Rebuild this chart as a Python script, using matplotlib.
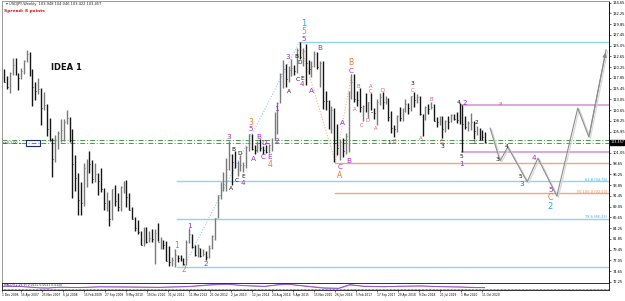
import numpy as np
import pandas as pd
import matplotlib
matplotlib.use('Agg')
import matplotlib.pyplot as plt
import matplotlib.dates as mdates
from matplotlib.transforms import blended_transform_factory
from matplotlib.patches import Rectangle

# USDJPY monthly bars, Sep 2006 .. Nov 2020 (approx.)
first_month = "2006-09-01"
highs = [118.3, 119.9, 118.2, 119.1,
         122.2, 122.2, 119.0, 120.0, 121.9, 124.1, 123.6, 119.8, 117.0, 117.9, 115.5, 114.7,
         112.0, 108.8, 104.4, 105.0, 106.0, 108.6, 108.6, 110.7, 109.2, 106.5, 100.5, 96.5,
         94.6, 98.8, 99.7, 101.4, 99.5, 98.9, 96.5, 97.8, 93.3, 92.3, 90.5, 93.1,
         93.8, 92.1, 93.6, 94.8, 94.9, 92.2, 88.9, 86.8, 86.0, 83.6, 84.4, 84.5,
         83.6, 84.0, 84.0, 85.5, 82.2, 81.7, 81.4, 80.2, 77.9, 79.5, 78.3, 78.3,
         77.6, 81.7, 84.2, 83.0, 80.4, 80.6, 79.9, 79.6, 79.2, 80.4, 82.8, 86.6,
         91.7, 94.5, 96.7, 99.9, 103.7, 100.9, 101.5, 99.2, 100.6, 99.0, 102.6, 105.4,
         105.4, 102.8, 103.8, 104.1, 102.7, 102.8, 103.1, 104.5, 110.1, 112.5, 118.9, 121.9,
         121.0, 120.5, 122.0, 120.8, 124.5, 125.9, 124.6, 125.3, 121.8, 121.5, 123.8, 123.7,
         121.7, 121.7, 114.9, 112.9, 111.5, 111.0, 107.5, 104.2, 104.3, 105.5, 114.8, 118.7,
         118.6, 114.9, 115.5, 111.8, 114.4, 112.5, 114.5, 111.0, 113.2, 114.5, 114.7, 113.7,
         113.4, 110.5, 107.3, 109.6, 111.4, 111.0, 113.2, 112.2, 113.7, 114.6, 114.2, 113.8,
         109.7, 111.5, 112.1, 112.4, 112.0, 109.0, 109.3, 109.3, 108.5, 109.3, 109.7, 109.7,
         110.3, 112.2, 111.7, 109.4, 108.1, 109.9, 108.2, 107.0, 106.6, 106.1, 105.7]
lows = [115.4, 116.9, 115.4, 114.4,
        118.5, 118.4, 115.2, 117.5, 118.8, 121.4, 118.3, 111.6, 113.0, 114.2, 107.2, 110.6,
        104.9, 103.7, 95.7, 99.0, 101.9, 103.5, 103.8, 107.5, 103.5, 90.9, 92.6, 87.1,
        87.1, 89.1, 93.5, 96.6, 94.4, 94.5, 91.7, 92.3, 88.2, 88.0, 84.8, 86.0,
        89.2, 88.1, 88.1, 92.0, 88.9, 88.4, 86.2, 83.6, 82.9, 80.4, 80.2, 80.9,
        81.1, 81.1, 76.3, 81.3, 79.6, 79.7, 76.8, 75.9, 75.9, 75.6, 76.6, 76.9,
        76.0, 76.1, 80.9, 79.8, 78.0, 77.7, 77.9, 78.0, 77.1, 77.5, 79.5, 81.7,
        86.5, 90.8, 92.5, 92.6, 97.2, 93.8, 97.6, 95.8, 97.0, 96.9, 97.6, 101.6,
        101.8, 100.8, 101.2, 101.4, 100.8, 101.1, 101.1, 101.5, 104.0, 105.2, 112.3, 115.6,
        115.9, 116.9, 118.3, 118.5, 118.9, 122.0, 120.4, 116.2, 118.6, 118.1, 120.2, 119.9,
        115.9, 110.9, 110.7, 106.3, 105.5, 99.0, 100.7, 99.5, 100.1, 100.9, 101.2, 113.1,
        112.5, 111.6, 110.1, 108.1, 110.2, 108.8, 110.6, 108.6, 107.3, 111.7, 110.8, 111.9,
        108.3, 105.6, 104.6, 105.7, 108.1, 108.1, 110.3, 109.8, 110.4, 111.4, 112.3, 109.6,
        104.9, 108.5, 109.7, 110.8, 108.3, 106.8, 107.2, 104.5, 105.7, 106.5, 107.9, 108.4,
        107.7, 107.5, 101.2, 106.4, 105.9, 106.1, 104.2, 105.1, 104.0, 104.0, 103.2]
closes = [118.1, 117.0, 115.8, 119.0,
          120.7, 118.6, 117.8, 119.4, 121.7, 123.2, 118.6, 115.8, 114.8, 115.3, 111.2, 111.7,
          106.4, 104.0, 99.7, 104.0, 105.5, 106.2, 108.0, 108.8, 106.0, 98.5, 95.5, 90.6,
          89.9, 97.6, 98.9, 98.6, 95.3, 96.4, 94.7, 93.0, 89.8, 89.9, 86.4, 93.0,
          90.3, 89.0, 93.5, 94.0, 91.2, 88.4, 86.4, 84.2, 83.5, 80.4, 83.7, 81.1,
          82.0, 81.8, 83.1, 81.2, 81.5, 80.5, 76.8, 76.6, 77.1, 78.2, 77.6, 76.9,
          76.2, 81.2, 82.9, 80.0, 78.3, 79.8, 78.1, 78.4, 77.9, 79.8, 82.5, 86.5,
          91.7, 92.6, 94.2, 97.4, 100.5, 99.1, 97.9, 98.2, 98.3, 98.4, 102.4, 105.3,
          102.0, 101.8, 103.2, 102.2, 101.8, 101.3, 102.8, 104.1, 109.7, 112.3, 118.6, 119.8,
          117.5, 119.6, 120.1, 119.4, 124.1, 122.5, 123.9, 121.2, 119.9, 120.6, 123.1, 120.2,
          121.1, 112.7, 112.6, 106.5, 110.7, 103.2, 102.1, 103.4, 101.4, 104.8, 114.4, 117.0,
          113.1, 112.8, 111.4, 111.5, 110.8, 112.4, 110.3, 110.0, 112.5, 113.6, 112.5, 112.7,
          109.2, 106.7, 106.3, 109.3, 108.8, 110.7, 111.9, 111.0, 113.7, 112.9, 113.5, 109.7,
          108.9, 111.4, 110.9, 111.4, 108.3, 107.9, 108.8, 106.3, 108.1, 108.0, 109.5, 108.6,
          108.4, 107.9, 107.5, 106.9, 107.8, 107.9, 105.9, 105.9, 105.5, 104.7, 103.5]

# wave labels, grouped by colour
purple_dates = ["2012-03-15", "2012-09-10", "2013-05-15", "2013-10-12", "2014-01-06", "2014-04-02",
                "2014-05-25", "2014-01-28", "2014-05-15", "2014-07-28", "2014-10-12", "2014-10-01",
                "2015-02-04", "2015-07-10", "2015-07-22", "2016-01-10", "2015-10-18", "2016-09-15",
                "2016-11-18", "2016-08-12", "2016-12-12", "2020-04-12", "2020-03-01", "2021-12-10",
                "2022-04-20", "2022-10-17"]
purple_prices = [84.7, 76.2, 104.6, 94.3, 106.4, 104.6, 103.3, 99.7, 100.2, 100.2, 103.7, 110.9,
                 122.5, 116.5, 126.5, 124.5, 114.9, 107.8, 99.3, 97.9, 119.4, 112.2, 98.6, 94.1,
                 99.9, 92.7]
purple_texts = ["1", "2", "3", "4", "5", "B", "D", "A", "C", "E", "2", "1", "3", "4", "5", "B",
                "A", "A", "B", "C", "C", "2", "1", "3", "4", "5"]

orange_dates = ["2011-11-06", "2012-01-21", "2014-01-06", "2014-07-28", "2015-07-22", "2016-08-12",
                "2016-12-12", "2022-10-10"]
orange_prices = [80.3, 74.9, 107.8, 98.4, 128.3, 96.1, 121.2, 91.0]
orange_texts = ["1", "2", "3", "4", "5", "A", "B", "C"]

cyan_dates = ["2015-07-22", "2022-10-07"]
cyan_prices = [130.1, 89.2]
cyan_texts = ["1", "2"]

black_dates = ["2013-06-27", "2013-09-10", "2013-08-10", "2013-10-12", "2013-06-05", "2015-05-09",
               "2015-06-09", "2015-05-18", "2015-07-10", "2015-02-15", "2018-09-25", "2019-08-10",
               "2020-02-08", "2020-08-10", "2020-07-18", "2020-03-01", "2021-03-20", "2021-07-06",
               "2021-11-30", "2018-01-20"]
black_prices = [101.9, 101.0, 94.8, 95.7, 93.0, 122.7, 121.2, 117.4, 117.8, 114.7, 116.5, 102.6,
                112.4, 107.8, 103.3, 100.2, 99.5, 102.6, 95.7, 103.3]
black_texts = ["B", "D", "C", "E", "A", "B", "D", "C", "E", "A", "3", "3", "4", "2", "1", "5",
               "3", "4", "5", "1"]

pink_dates = ["2017-01-25", "2017-02-24", "2017-07-13", "2017-07-03", "2017-06-09", "2017-04-06",
              "2017-09-06", "2017-11-10", "2018-03-15", "2018-09-25", "2019-04-15", "2018-12-30",
              "2019-08-10", "2021-04-20"]
pink_prices = [110.7, 116.0, 116.0, 114.9, 108.2, 107.3, 106.6, 115.1, 103.7, 115.1, 112.9, 104.2,
               103.7, 112.2]
pink_texts = ["A", "B", "A", "C", "D", "C", "A", "D", "B", "C", "B", "A", "C", "a"]

# projected path
path_dates = ["2021-01-06", "2021-04-22", "2021-07-15", "2022-02-06", "2022-06-01", "2022-12-20",
              "2023-08-01", "2023-11-28", "2024-05-30"]
path_prices = [106.6, 99.3, 102.4, 94.6, 99.9, 91.4, 111.1, 104.6, 124.1]

# horizontal levels
level_prices = [125.86, 94.78, 86.33, 75.57, 98.8, 92.1, 111.8, 101.3]
level_starts = ["2015-06-07", "2011-11-06", "2011-11-06", "2011-11-06", "2016-06-26", "2016-06-26",
                "2020-03-08", "2020-03-08"]
level_colors = ["#8fd3f0", "#8fd3f0", "#8fd3f0", "#8fd3f0", "#f0a878", "#f0a878", "#dca8dc", "#dca8dc"]
fib_texts = ["61.8 (94.78)", "FE 100.0 (92.10)", "78.6 (86.33)"]
fib_prices = [94.78, 92.1, 86.33]
fib_colors = ["#3ab0e0", "#e8905a", "#3ab0e0"]
green_level = 103.95
red_level = 103.30
last_price = 103.457

# dotted swing lines
cyan_swing_dates = ["2012-01-29", "2015-06-07"]
cyan_swing_prices = [76.0, 125.86]
peach_swing_dates = ["2015-06-07", "2016-06-26", "2016-12-18"]
peach_swing_prices = [125.86, 99.0, 118.7]

# price axis and date axis
price_ticks = [72.25, 74.65, 77.05, 79.45, 81.85, 84.25, 86.65, 89.05, 91.45, 93.85, 96.25, 98.65,
               101.05, 105.85, 108.25, 110.65, 113.05, 115.45, 117.85, 120.25, 122.65, 125.05,
               127.45, 129.85, 132.25, 134.65]
date_ticks = ["2006-09-23", "2007-04-15", "2007-11-25", "2008-07-06", "2009-02-15", "2009-09-27",
              "2010-05-09", "2010-12-19", "2011-07-31", "2012-03-11", "2012-10-21", "2013-06-02",
              "2014-01-12", "2014-08-24", "2015-04-05", "2015-11-15", "2016-06-26", "2017-02-05",
              "2017-09-17", "2018-04-29", "2018-12-09", "2019-07-21", "2020-03-01", "2020-10-11"]
date_labels = ["1 Dec 2006", "15 Apr 2007", "25 Nov 2007", "6 Jul 2008", "15 Feb 2009",
               "27 Sep 2009", "9 May 2010", "19 Dec 2010", "31 Jul 2011", "11 Mar 2012",
               "21 Oct 2012", "2 Jun 2013", "12 Jan 2014", "24 Aug 2014", "5 Apr 2015",
               "15 Nov 2015", "26 Jun 2016", "5 Feb 2017", "17 Sep 2017", "29 Apr 2018",
               "9 Dec 2018", "21 Jul 2019", "1 Mar 2020", "11 Oct 2020"]

# oscillator in the bottom pane
ind_dates = ["2006-09-24", "2007-04-01", "2007-11-01", "2008-02-01", "2008-06-01", "2009-01-01",
             "2009-08-01", "2010-06-01", "2011-05-01", "2012-03-01", "2012-12-01", "2013-05-01",
             "2013-10-01", "2014-06-01", "2014-11-01", "2015-02-01", "2015-08-01", "2016-03-01",
             "2016-08-01", "2016-12-01", "2017-05-01", "2017-12-01", "2018-05-01", "2019-01-01",
             "2019-08-01", "2020-03-01", "2020-08-01", "2020-11-08"]
ind_main = [0.3, 0.2, -0.3, -0.3, 0.0, -0.2, 0.1, 0.0, -0.1, 0.2, 0.9, 1.0, 0.5, 0.2, 0.9, 1.0,
            0.3, -0.4, -0.4, 0.9, 0.2, 0.1, 0.3, 0.4, 0.1, 0.0, -0.2, -0.2]
ind_signal = [0.25, 0.25, -0.2, -0.35, -0.1, -0.1, 0.05, 0.05, -0.05, 0.1, 0.7, 0.95, 0.6, 0.3,
              0.7, 0.95, 0.45, -0.2, -0.45, 0.6, 0.35, 0.15, 0.25, 0.35, 0.2, 0.05, -0.1, -0.2]


def d(s):
    return mdates.date2num(pd.to_datetime(s))


W, H = 625, 301
fig = plt.figure(figsize=(W / 100, H / 100), dpi=100)
ax = fig.add_axes([2 / W, 1 - 283 / H, 607 / W, 282 / H])
ind = fig.add_axes([2 / W, 1 - 290 / H, 607 / W, 7 / H])

x_lo, x_hi = d("2006-09-23"), d("2024-06-30")

# bars
months = pd.date_range(first_month, periods=len(closes), freq="MS") + pd.Timedelta(days=14)
bx = mdates.date2num(months)
prev = np.r_[closes[0], closes[:-1]]
cols = np.where(np.array(closes) >= prev, "#7a7a7a", "#151515")
ax.vlines(bx, lows, highs, colors=cols, lw=1.0, zorder=3)
ax.hlines(closes, bx, bx + 9, colors=cols, lw=0.7, zorder=3)

# levels
for p, s, c in zip(level_prices, level_starts, level_colors):
    lw = 1.4 if c == "#dca8dc" else 1.0
    ax.plot([d(s), x_hi], [p, p], color=c, lw=lw, zorder=2)
ax.axhline(green_level, color="#3aa63a", lw=0.7, ls=(0, (5, 2, 1, 2)), zorder=2)
ax.axhline(red_level, color="#e0502a", lw=0.7, ls=(0, (5, 2, 1, 2)), zorder=2)

tr = blended_transform_factory(ax.transAxes, ax.transData)
for t, p, c in zip(fib_texts, fib_prices, fib_colors):
    ax.text(0.9965, p + 0.3, t, transform=tr, color=c, fontsize=2.6, ha="right", va="center")

# swing lines
ax.plot(d(cyan_swing_dates), cyan_swing_prices, color="#8fd3f0", lw=0.8, ls=(0, (1, 1.5)), zorder=2)
ax.plot(d(peach_swing_dates), peach_swing_prices, color="#f0b890", lw=0.8, ls=(0, (1, 1.5)), zorder=2)

# projected path with its light shadow
px = d(path_dates)
ax.plot(px + 16, np.array(path_prices) - 0.25, color="#d8d8d8", lw=0.9, zorder=3)
ax.plot(px, path_prices, color="#8c8c8c", lw=0.8, zorder=4)
ax.annotate("", xy=(px[-1], path_prices[-1]), xytext=(px[-2], path_prices[-2]),
            arrowprops=dict(arrowstyle="-|>,head_length=0.25,head_width=0.12", color="#8c8c8c",
                            lw=0.8), zorder=4)

# wave labels
groups = [(purple_dates, purple_prices, purple_texts, "#9b2fc0", 5.2),
          (orange_dates, orange_prices, orange_texts, "#e8772e", 5.5),
          (cyan_dates, cyan_prices, cyan_texts, "#27a9e6", 6.0),
          (black_dates, black_prices, black_texts, "#111111", 4.2),
          (pink_dates, pink_prices, pink_texts, "#e4556f", 3.8)]
for ds, ps, ts, c, fs in groups:
    for dd, p, t in zip(ds, ps, ts):
        ax.text(d(dd), p, t, color=c, fontsize=fs, ha="center", va="center", zorder=6)

# header texts
ax.text(0.006, 0.995, "\u25be USDJPY,Weekly  103.948 104.046 103.422 103.457", transform=ax.transAxes,
        fontsize=2.6, va="top", ha="left", color="#222222")
ax.text(0.003, 0.972, "Spread: 8 points", transform=ax.transAxes, fontsize=3.2, va="top",
        ha="left", color="#e01010", fontweight="bold")
ax.text(0.080, 0.764, "IDEA 1", transform=ax.transAxes, fontsize=6, va="center", ha="left",
        fontweight="bold", color="#111111")

# trade box on the left
ax.text(0.002, green_level - 0.6, "sell 1.00 \u2192", transform=tr, fontsize=2.4, va="center",
        ha="left", color="#333333")
ax.add_patch(Rectangle((0.040, green_level - 1.3), 0.022, 1.4, transform=tr, fill=False,
                       edgecolor="#1a2a8a", lw=0.8, zorder=7))

# current price box on the axis
ax.text(1.002, last_price, f"{last_price:.3f}", transform=tr, fontsize=2.4, va="center",
        ha="left", color="white", bbox=dict(boxstyle="square,pad=0.12", fc="black", ec="black"),
        clip_on=False)

ax.set_xlim(x_lo, x_hi)
ax.set_ylim(71.99, 135.02)
ax.yaxis.tick_right()
ax.set_yticks(price_ticks)
ax.set_yticklabels([f"{v:.2f}" for v in price_ticks])
ax.tick_params(axis="y", labelsize=2.6, length=1.5, width=0.4, pad=1)
ax.set_xticks([])
for sp in ax.spines.values():
    sp.set_linewidth(0.7)
    sp.set_color("#111111")
ax.spines["left"].set_color("#999999")
ax.spines["top"].set_color("#999999")

# bottom pane
ind.plot(d(ind_dates), ind_signal, color="#e070c0", lw=0.6)
ind.plot(d(ind_dates), ind_main, color="#7a4fd8", lw=0.6)
ind.plot([x_lo, x_hi], [-0.8, -0.8], color="#222222", lw=0.5, ls=(0, (1, 1)))
ind.text(0.003, 0.93, "MACD(12,26,9) 0.0151 0.0021 0.0130", transform=ind.transAxes,
         fontsize=2.2, va="top", ha="left", color="#222222")
ind.set_xlim(x_lo, x_hi)
ind.set_ylim(-1.0, 1.4)
ind.set_yticks([])
ind.set_xticks(d(date_ticks))
ind.set_xticklabels(date_labels, fontsize=2.1, ha="left")
ind.tick_params(axis="x", length=1.2, width=0.4, pad=1)
for sp in ind.spines.values():
    sp.set_linewidth(0.6)
    sp.set_color("#111111")

fig.savefig("out.png", dpi=100)
